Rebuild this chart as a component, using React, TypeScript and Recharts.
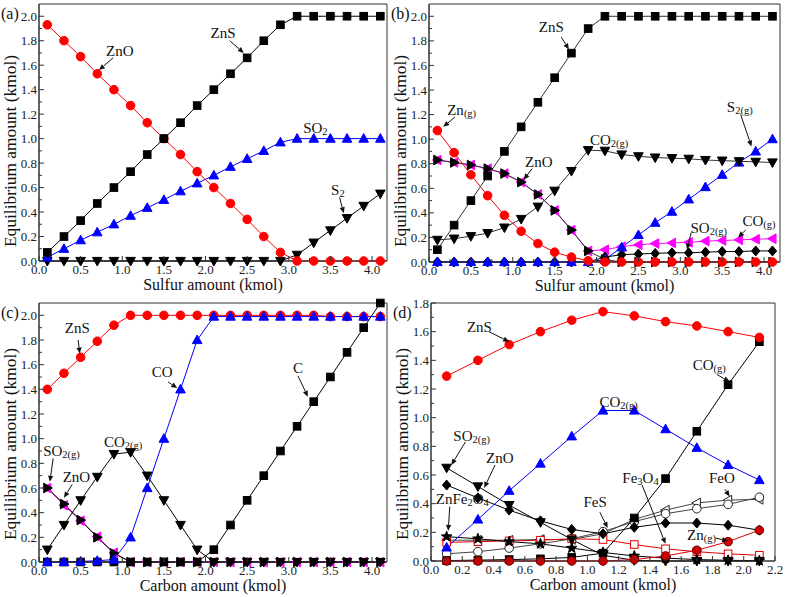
import React from "react";
import { LineChart, Line, XAxis, YAxis, ReferenceArea } from "recharts";

const FONT = "'Liberation Serif', 'Times New Roman', 'DejaVu Serif', serif";

// (a) sulfur only
const sulfurA = [0.1, 0.3, 0.5, 0.7, 0.9, 1.1, 1.3, 1.5, 1.7, 1.9, 2.1, 2.3, 2.5, 2.7, 2.9, 3.1, 3.3, 3.5, 3.7, 3.9, 4.1];
const aZnS = [0.07, 0.2, 0.33, 0.47, 0.6, 0.73, 0.87, 1.0, 1.13, 1.27, 1.4, 1.53, 1.66, 1.8, 1.93, 2.0, 2.0, 2.0, 2.0, 2.0, 2.0];
const aZnO = [1.93, 1.8, 1.67, 1.53, 1.4, 1.27, 1.13, 1.0, 0.87, 0.73, 0.6, 0.47, 0.34, 0.2, 0.07, 0, 0, 0, 0, 0, 0];
const aSO2 = [0.03, 0.1, 0.17, 0.235, 0.3, 0.37, 0.435, 0.5, 0.57, 0.635, 0.7, 0.77, 0.835, 0.9, 0.97, 1.0, 1.0, 1.0, 1.0, 1.0, 1.0];
const aS2 = [0, 0, 0, 0, 0, 0, 0, 0, 0, 0, 0, 0, 0, 0, 0, 0.05, 0.15, 0.25, 0.35, 0.45, 0.55];

// (b) sulfur with carbon
const sulfurB = [0.1, 0.3, 0.5, 0.7, 0.9, 1.1, 1.3, 1.5, 1.7, 1.9, 2.1, 2.3, 2.5, 2.7, 2.9, 3.1, 3.3, 3.5, 3.7, 3.9, 4.1];
const bZnS = [0.1, 0.3, 0.5, 0.7, 0.9, 1.1, 1.3, 1.5, 1.7, 1.9, 2.0, 2.0, 2.0, 2.0, 2.0, 2.0, 2.0, 2.0, 2.0, 2.0, 2.0];
const bZnG = [1.07, 0.89, 0.71, 0.54, 0.38, 0.25, 0.15, 0.08, 0.04, 0.01, 0, 0, 0, 0, 0, 0, 0, 0, 0, 0, 0];
const bZnO = [0.83, 0.81, 0.79, 0.76, 0.72, 0.65, 0.55, 0.42, 0.26, 0.09, 0.02, 0, 0, 0, 0, 0, 0, 0, 0, 0, 0];
const bCO2 = [0.18, 0.19, 0.21, 0.235, 0.28, 0.35, 0.45, 0.58, 0.74, 0.91, 0.905, 0.875, 0.86, 0.85, 0.845, 0.84, 0.83, 0.825, 0.82, 0.815, 0.81];
const bS2 = [0, 0, 0, 0, 0, 0, 0, 0, 0, 0, 0.02, 0.12, 0.22, 0.32, 0.41, 0.51, 0.61, 0.71, 0.81, 0.9, 1.0];
const bCO = [0.83, 0.81, 0.79, 0.76, 0.72, 0.65, 0.55, 0.42, 0.26, 0.09, 0.1, 0.125, 0.14, 0.15, 0.155, 0.16, 0.17, 0.175, 0.18, 0.185, 0.19];
const bSO2 = [0, 0, 0, 0, 0, 0, 0, 0, 0, 0, 0.04, 0.06, 0.065, 0.07, 0.075, 0.075, 0.08, 0.085, 0.085, 0.09, 0.09];

// (c) carbon
const carbonC = [0.1, 0.3, 0.5, 0.7, 0.9, 1.1, 1.3, 1.5, 1.7, 1.9, 2.1, 2.3, 2.5, 2.7, 2.9, 3.1, 3.3, 3.5, 3.7, 3.9, 4.1];
const cZnS = [1.4, 1.53, 1.66, 1.79, 1.92, 2.0, 2.0, 2.0, 2.0, 2.0, 2.0, 2.0, 2.0, 2.0, 2.0, 2.0, 2.0, 1.99, 1.99, 1.99, 1.99];
const cCO = [0, 0, 0.005, 0.01, 0.02, 0.2, 0.6, 1.0, 1.4, 1.8, 1.99, 1.99, 1.99, 1.99, 1.99, 1.99, 1.99, 1.99, 1.99, 1.99, 1.99];
const cC = [0, 0, 0, 0, 0, 0, 0, 0, 0, 0, 0.1, 0.3, 0.5, 0.7, 0.9, 1.1, 1.3, 1.5, 1.7, 1.9, 2.1];
const cCO2 = [0.1, 0.3, 0.5, 0.69, 0.875, 0.89, 0.7, 0.5, 0.3, 0.1, 0, 0, 0, 0, 0, 0, 0, 0, 0, 0, 0];
const cZnO = [0.6, 0.47, 0.34, 0.2, 0.07, 0, 0, 0, 0, 0, 0, 0, 0, 0, 0, 0, 0, 0, 0, 0, 0];
const cSO2 = [0.6, 0.46, 0.335, 0.205, 0.075, 0, 0, 0, 0, 0, 0, 0, 0, 0, 0, 0, 0, 0, 0, 0, 0];

// (d) carbon, with iron
const carbonD = [0.1, 0.3, 0.5, 0.7, 0.9, 1.1, 1.3, 1.5, 1.7, 1.9, 2.1];
const dZnS = [1.29, 1.4, 1.51, 1.6, 1.68, 1.74, 1.71, 1.67, 1.64, 1.6, 1.56];
const dCO = [0.003, 0.006, 0.01, 0.015, 0.025, 0.055, 0.3, 0.575, 0.905, 1.23, 1.53];
const dCO2 = [0.095, 0.29, 0.49, 0.68, 0.87, 1.05, 1.05, 0.92, 0.79, 0.67, 0.565];
const dSO2 = [0.65, 0.52, 0.39, 0.27, 0.15, 0.04, 0.005, 0, 0, 0, 0];
const dZnO = [0.53, 0.44, 0.355, 0.28, 0.22, 0.19, 0.235, 0.265, 0.265, 0.25, 0.215];
const dZnFe2O4 = [0.17, 0.155, 0.135, 0.12, 0.09, 0.06, 0.035, 0.02, 0.01, 0.005, 0.002];
const dFe3O4 = [0.13, 0.135, 0.14, 0.145, 0.155, 0.15, 0.115, 0.085, 0.065, 0.05, 0.04];
const dFeS = [0.05, 0.065, 0.09, 0.12, 0.155, 0.205, 0.275, 0.33, 0.365, 0.395, 0.445];
const dFeO = [0.145, 0.145, 0.145, 0.15, 0.15, 0.19, 0.29, 0.355, 0.405, 0.425, 0.43];
const dZnG = [0, 0, 0, 0, 0, 0, 0.01, 0.035, 0.075, 0.135, 0.215];

const ticks4 = [0, 0.25, 0.5, 0.75, 1, 1.25, 1.5, 1.75, 2, 2.25, 2.5, 2.75, 3, 3.25, 3.5, 3.75, 4];
const ticks22 = [0, 0.1, 0.2, 0.3, 0.4, 0.5, 0.6, 0.7, 0.8, 0.9, 1.0, 1.1, 1.2, 1.3, 1.4, 1.5, 1.6, 1.7, 1.8, 1.9, 2.0, 2.1, 2.2];
const yTicks20 = [0, 0.1, 0.2, 0.3, 0.4, 0.5, 0.6, 0.7, 0.8, 0.9, 1.0, 1.1, 1.2, 1.3, 1.4, 1.5, 1.6, 1.7, 1.8, 1.9, 2.0];
const yTicks18 = [0, 0.1, 0.2, 0.3, 0.4, 0.5, 0.6, 0.7, 0.8, 0.9, 1.0, 1.1, 1.2, 1.3, 1.4, 1.5, 1.6, 1.7, 1.8];

type Shape = "square" | "circle" | "up" | "down" | "left" | "right" | "diamond" | "star";

type Series = {
  key: string;
  values: number[];
  color: string;
  shape: Shape;
  fill?: string;
  stroke?: string;
  line?: string;
};

type Note = {
  parts: string[];
  at: [number, number];
  from?: [number, number];
  to?: [number, number];
};

const polys: Record<string, number[][]> = {
  up: [[0, -5], [4.8, 3.6], [-4.8, 3.6]],
  down: [[0, 5], [4.8, -3.6], [-4.8, -3.6]],
  left: [[-5, 0], [3.6, -4.8], [3.6, 4.8]],
  right: [[5, 0], [-3.6, -4.8], [-3.6, 4.8]],
  diamond: [[0, -5], [4.2, 0], [0, 5], [-4.2, 0]],
};

function starPts() {
  const out: number[][] = [];
  for (let i = 0; i < 10; i++) {
    const r = i % 2 === 0 ? 5.5 : 2.3;
    const a = -Math.PI / 2 + (i * Math.PI) / 5;
    out.push([r * Math.cos(a), r * Math.sin(a)]);
  }
  return out;
}
polys.star = starPts();

function Marker({ cx, cy, s }: { cx: number; cy: number; s: Series }) {
  if (cx == null || cy == null || isNaN(cx) || isNaN(cy)) return <g />;
  const fill = s.fill ?? s.color;
  const stroke = s.stroke ?? s.color;
  if (s.shape === "square")
    return <rect x={cx - 3.8} y={cy - 3.8} width={7.6} height={7.6} fill={fill} stroke={stroke} strokeWidth={1} />;
  if (s.shape === "circle") return <circle cx={cx} cy={cy} r={4.3} fill={fill} stroke={stroke} strokeWidth={1} />;
  const pts = polys[s.shape].map(([dx, dy]) => `${cx + dx},${cy + dy}`).join(" ");
  return <polygon points={pts} fill={fill} stroke={stroke} strokeWidth={1} />;
}

const txt = { fontFamily: FONT };

function Chem({ parts, x, y }: { parts: string[]; x: number; y: number }) {
  return (
    <text x={x} y={y} textAnchor="middle" style={txt} fontSize={15} fill="#111">
      {parts.map((p, i) => {
        const sub = i % 2 === 1;
        const dy = sub ? 2 : i > 0 ? -2 : 0;
        return (
          <tspan key={i} fontSize={sub ? 10.5 : 15} dy={dy}>
            {p}
          </tspan>
        );
      })}
    </text>
  );
}

function Arrow({ x1, y1, x2, y2 }: { x1: number; y1: number; x2: number; y2: number }) {
  const dx = x2 - x1;
  const dy = y2 - y1;
  const len = Math.sqrt(dx * dx + dy * dy) || 1;
  const ux = dx / len;
  const uy = dy / len;
  const hl = 6;
  const hw = 2.6;
  const bx = x2 - ux * hl;
  const by = y2 - uy * hl;
  const pts = `${x2},${y2} ${bx - uy * hw},${by + ux * hw} ${bx + uy * hw},${by - ux * hw}`;
  return (
    <g>
      <line x1={x1} y1={y1} x2={bx} y2={by} stroke="#111" strokeWidth={1} />
      <polygon points={pts} fill="#111" />
    </g>
  );
}

const isMajor = (v: number, step: number) => Math.abs(v / step - Math.round(v / step)) < 1e-6;

function XTick(props: any) {
  const { x, y, payload, step } = props;
  const major = isMajor(payload.value, step);
  return (
    <g>
      <line x1={x} y1={y} x2={x} y2={y - (major ? 5 : 3)} stroke="#333" strokeWidth={1} />
      {major && (
        <text x={x} y={y + 13} textAnchor="middle" style={txt} fontSize={13} fill="#222">
          {payload.value.toFixed(1)}
        </text>
      )}
    </g>
  );
}

function YTick(props: any) {
  const { x, y, payload } = props;
  const major = isMajor(payload.value, 0.2);
  return (
    <g>
      <line x1={x} y1={y} x2={x + (major ? 5 : 3)} y2={y} stroke="#333" strokeWidth={1} />
      {major && (
        <text x={x - 2} y={y + 4.5} textAnchor="end" style={txt} fontSize={13} fill="#222">
          {payload.value.toFixed(1)}
        </text>
      )}
    </g>
  );
}

type PanelProps = {
  left: number;
  top: number;
  width: number;
  height: number;
  xAxisH: number;
  xs: number[];
  xMax: number;
  yMax: number;
  xTicks: number[];
  xStep: number;
  yTicks: number[];
  series: Series[];
  xTitle: string;
  titleY: number;
  tag: string;
  notes: Note[];
};

function Panel(p: PanelProps) {
  const plotL = 39;
  const plotT = 4;
  const plotR = p.width - 6;
  const plotB = p.height - p.xAxisH;
  const sx = (v: number) => plotL + (v / p.xMax) * (plotR - plotL);
  const sy = (v: number) => plotB - (v / p.yMax) * (plotB - plotT);
  const data = p.xs.map((x, i) => {
    const row: Record<string, number> = { x };
    p.series.forEach((s) => {
      row[s.key] = s.values[i];
    });
    return row;
  });
  return (
    <div style={{ position: "absolute", left: p.left, top: p.top, width: p.width, height: p.height }}>
      <LineChart width={p.width} height={p.height} data={data} margin={{ top: plotT, right: 6, left: 0, bottom: 0 }}>
        <XAxis
          type="number"
          dataKey="x"
          domain={[0, p.xMax]}
          ticks={p.xTicks}
          interval={0}
          height={p.xAxisH}
          tickSize={0}
          tickMargin={0}
          tickLine={false}
          stroke="#333"
          tick={<XTick step={p.xStep} />}
        />
        <YAxis
          type="number"
          domain={[0, p.yMax]}
          ticks={p.yTicks}
          interval={0}
          width={plotL}
          tickSize={0}
          tickMargin={0}
          tickLine={false}
          stroke="#333"
          tick={<YTick />}
        />
        <ReferenceArea x1={0} x2={p.xMax} y1={0} y2={p.yMax} fill="none" stroke="#333" strokeWidth={1} />
        {p.series.map((s) => (
          <Line
            key={s.key}
            type="linear"
            dataKey={s.key}
            stroke={s.line ?? s.color}
            strokeWidth={1}
            isAnimationActive={false}
            dot={(d: any) => (
              <g key={`${s.key}-${d.index}`}>
                <Marker cx={d.cx} cy={d.cy} s={s} />
              </g>
            )}
            activeDot={false}
          />
        ))}
      </LineChart>
      <svg
        width={p.width}
        height={p.height}
        style={{ position: "absolute", left: 0, top: 0, overflow: "visible", pointerEvents: "none" }}
      >
        <text x={1} y={19} style={txt} fontSize={16} fill="#111">
          {p.tag}
        </text>
        <text
          transform={`translate(15.5, ${p.titleY}) rotate(-90)`}
          textAnchor="middle"
          style={txt}
          fontSize={16}
          fill="#111"
          textLength={192}
          lengthAdjust="spacingAndGlyphs"
        >
          Equilibrium amount (kmol)
        </text>
        <text x={(plotL + plotR) / 2} y={plotB + 29} textAnchor="middle" style={txt} fontSize={16} fill="#111">
          {p.xTitle}
        </text>
        {p.notes.map((n, i) => (
          <g key={i}>
            <Chem parts={n.parts} x={sx(n.at[0])} y={sy(n.at[1]) + 5} />
            {n.from && n.to && <Arrow x1={sx(n.from[0])} y1={sy(n.from[1])} x2={sx(n.to[0])} y2={sy(n.to[1])} />}
          </g>
        ))}
      </svg>
    </div>
  );
}

const RED = "#ff0000";
const BLUE = "#0000ff";
const MAG = "#ff00ff";
const BLK = "#000000";

const seriesA: Series[] = [
  { key: "S2", values: aS2, color: BLK, shape: "down" },
  { key: "SO2", values: aSO2, color: BLUE, shape: "up" },
  { key: "ZnO", values: aZnO, color: RED, shape: "circle" },
  { key: "ZnS", values: aZnS, color: BLK, shape: "square" },
];

const seriesB: Series[] = [
  { key: "COg", values: bCO, color: MAG, shape: "left" },
  { key: "SO2g", values: bSO2, color: BLK, shape: "diamond" },
  { key: "S2g", values: bS2, color: BLUE, shape: "up" },
  { key: "CO2g", values: bCO2, color: BLK, shape: "down", line: "#333" },
  { key: "ZnO", values: bZnO, color: BLK, shape: "right", line: "#333" },
  { key: "Zng", values: bZnG, color: RED, shape: "circle" },
  { key: "ZnS", values: bZnS, color: BLK, shape: "square", line: "#333" },
];

const seriesC: Series[] = [
  { key: "SO2g", values: cSO2, color: MAG, shape: "left" },
  { key: "ZnO", values: cZnO, color: BLK, shape: "right" },
  { key: "CO2g", values: cCO2, color: BLK, shape: "down" },
  { key: "C", values: cC, color: BLK, shape: "square" },
  { key: "ZnS", values: cZnS, color: RED, shape: "circle" },
  { key: "CO", values: cCO, color: BLUE, shape: "up" },
];

const seriesD: Series[] = [
  { key: "FeO", values: dFeO, color: "#444", shape: "left", fill: "#fff", stroke: "#222" },
  { key: "FeS", values: dFeS, color: "#444", shape: "circle", fill: "#fff", stroke: "#222" },
  { key: "Fe3O4", values: dFe3O4, color: "#e00000", shape: "square", fill: "#fff", stroke: "#e00000" },
  { key: "ZnFe2O4", values: dZnFe2O4, color: BLK, shape: "star" },
  { key: "ZnO", values: dZnO, color: BLK, shape: "diamond" },
  { key: "SO2g", values: dSO2, color: BLK, shape: "down" },
  { key: "COg", values: dCO, color: BLK, shape: "square" },
  { key: "Zng", values: dZnG, color: "#e00000", shape: "circle", fill: "#d00000", stroke: "#600" },
  { key: "CO2g", values: dCO2, color: BLUE, shape: "up" },
  { key: "ZnS", values: dZnS, color: RED, shape: "circle" },
];

const notesA: Note[] = [
  { parts: ["ZnO"], at: [0.97, 1.72], from: [0.89, 1.66], to: [0.72, 1.56] },
  { parts: ["ZnS"], at: [2.21, 1.86], from: [2.29, 1.8], to: [2.46, 1.7] },
  { parts: ["SO", "2"], at: [3.32, 1.09] },
  { parts: ["S", "2"], at: [3.59, 0.58], from: [3.61, 0.52], to: [3.66, 0.39] },
];

const notesB: Note[] = [
  { parts: ["ZnS"], at: [1.46, 1.91], from: [1.58, 1.83], to: [1.67, 1.73] },
  { parts: ["Zn", "(g)"], at: [0.39, 1.24], from: [0.31, 1.18], to: [0.17, 1.1] },
  { parts: ["ZnO"], at: [1.31, 0.81], from: [1.23, 0.76], to: [1.13, 0.67] },
  { parts: ["CO", "2(g)"], at: [2.15, 0.99] },
  { parts: ["S", "2(g)"], at: [3.71, 1.26], from: [3.72, 1.2], to: [3.85, 0.94] },
  { parts: ["SO", "2(g)"], at: [3.34, 0.28], from: [3.13, 0.24], to: [3.08, 0.1] },
  { parts: ["CO", "(g)"], at: [3.94, 0.33], from: [3.78, 0.26], to: [3.69, 0.2] },
];

const notesC: Note[] = [
  { parts: ["ZnS"], at: [0.46, 1.9], from: [0.47, 1.8], to: [0.49, 1.69] },
  { parts: ["CO"], at: [1.48, 1.54], from: [1.55, 1.46], to: [1.66, 1.41] },
  { parts: ["C"], at: [3.11, 1.57], from: [3.11, 1.51], to: [3.23, 1.34] },
  { parts: ["CO", "2(g)"], at: [1.01, 0.97] },
  { parts: ["SO", "2(g)"], at: [0.27, 0.9], from: [0.17, 0.84], to: [0.13, 0.65] },
  { parts: ["ZnO"], at: [0.45, 0.69], from: [0.4, 0.63], to: [0.3, 0.52] },
];

const notesD: Note[] = [
  { parts: ["ZnS"], at: [0.31, 1.63], from: [0.37, 1.6], to: [0.5, 1.53] },
  { parts: ["CO", "(g)"], at: [1.78, 1.37], from: [1.83, 1.3], to: [1.91, 1.25] },
  { parts: ["CO", "2(g)"], at: [1.2, 1.11] },
  { parts: ["SO", "2(g)"], at: [0.26, 0.87], from: [0.22, 0.83], to: [0.13, 0.67] },
  { parts: ["ZnO"], at: [0.44, 0.72], from: [0.41, 0.67], to: [0.34, 0.51] },
  { parts: ["ZnFe", "2", "O", "4"], at: [0.2, 0.43], from: [0.12, 0.38], to: [0.11, 0.21] },
  { parts: ["FeS"], at: [1.05, 0.41], from: [1.08, 0.34], to: [1.13, 0.23] },
  { parts: ["Fe", "3", "O", "4"], at: [1.34, 0.58], from: [1.35, 0.53], to: [1.5, 0.12] },
  { parts: ["FeO"], at: [1.86, 0.58], from: [1.88, 0.5], to: [1.91, 0.45] },
  { parts: ["Zn", "(g)"], at: [1.73, 0.18], from: [1.82, 0.16], to: [1.9, 0.14] },
];

export default function App() {
  return (
    <div
      style={{
        position: "absolute",
        left: 0,
        top: 0,
        width: 787,
        height: 597,
        background: "#fff",
        overflow: "hidden",
        fontFamily: FONT,
      }}
    >
      <style>{`.recharts-surface { overflow: visible; }`}</style>
      <Panel
        left={0}
        top={0}
        width={393}
        height={298}
        xAxisH={37}
        xs={sulfurA}
        xMax={4.18}
        yMax={2.1}
        xTicks={ticks4}
        xStep={0.5}
        yTicks={yTicks20}
        series={seriesA}
        xTitle="Sulfur amount (kmol)"
        titleY={151}
        tag="(a)"
        notes={notesA}
      />
      <Panel
        left={390}
        top={0}
        width={396}
        height={298}
        xAxisH={36}
        xs={sulfurB}
        xMax={4.19}
        yMax={2.1}
        xTicks={ticks4}
        xStep={0.5}
        yTicks={yTicks20}
        series={seriesB}
        xTitle="Sulfur amount (kmol)"
        titleY={151}
        tag="(b)"
        notes={notesB}
      />
      <Panel
        left={0}
        top={299}
        width={393}
        height={298}
        xAxisH={35}
        xs={carbonC}
        xMax={4.18}
        yMax={2.1}
        xTicks={ticks4}
        xStep={0.5}
        yTicks={yTicks20}
        series={seriesC}
        xTitle="Carbon amount (kmol)"
        titleY={145}
        tag="(c)"
        notes={notesC}
      />
      <Panel
        left={392}
        top={299}
        width={389}
        height={298}
        xAxisH={36}
        xs={carbonD}
        xMax={2.2}
        yMax={1.8}
        xTicks={ticks22}
        xStep={0.2}
        yTicks={yTicks18}
        series={seriesD}
        xTitle="Carbon amount (kmol)"
        titleY={145}
        tag="(d)"
        notes={notesD}
      />
    </div>
  );
}
